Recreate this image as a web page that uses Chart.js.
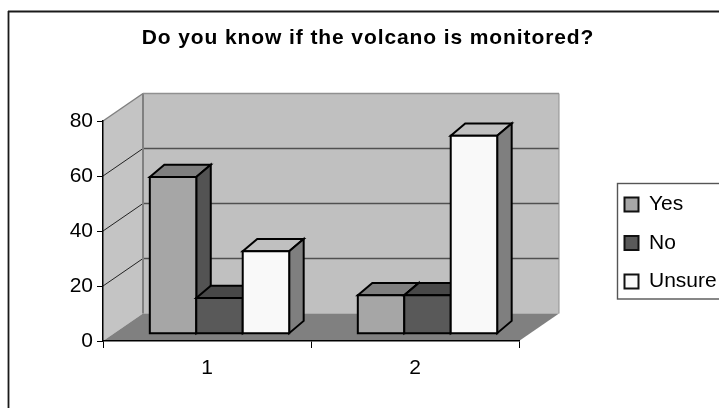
<!DOCTYPE html>
<html>
<head>
<meta charset="utf-8">
<title>Do you know if the volcano is monitored?</title>
<script src="https://cdn.jsdelivr.net/npm/chart.js@4/dist/chart.umd.js"></script>
<style>
  html, body { margin: 0; padding: 0; background: #fff; overflow: hidden; }
  canvas { display: block; }
</style>
</head>
<body>
<canvas id="volcanoChart" width="719" height="408"></canvas>
<script>
const chartTitle = 'Do you know if the volcano is monitored?';
const categories = ['1', '2'];
const seriesNames = ['Yes', 'No', 'Unsure'];
const yesValues = [57, 14];
const noValues = [13, 14];
const unsureValues = [30, 72];

// front, top and side face of each series
const frontColors = ['#a6a6a6', '#595959', '#f9f9f9'];
const topColors = ['#7f7f7f', '#484848', '#c0c0c0'];
const sideColors = ['#535353', '#484848', '#7f7f7f'];

// how far the walls and bars are pushed back to fake the 3d look
const wallDepth = { x: 40, y: 27.5 };
const barShift = { x: 12.5, y: 7.3 };
const barDepth = { x: 14.5, y: 12.3 };

function poly(ctx, pts, fill, stroke, lineWidth) {
  ctx.beginPath();
  pts.forEach((p, i) => i ? ctx.lineTo(p[0], p[1]) : ctx.moveTo(p[0], p[1]));
  ctx.closePath();
  if (fill) {
    ctx.fillStyle = fill;
    ctx.fill();
  }
  if (stroke) {
    ctx.strokeStyle = stroke;
    ctx.lineWidth = lineWidth;
    ctx.lineJoin = 'miter';
    ctx.stroke();
  }
}

function line(ctx, x1, y1, x2, y2, color, width) {
  ctx.beginPath();
  ctx.moveTo(x1, y1);
  ctx.lineTo(x2, y2);
  ctx.strokeStyle = color;
  ctx.lineWidth = width;
  ctx.stroke();
}

// the original title is set wider than the installed fonts
function spaceOut(box, spacing) {
  const draw = box.draw;
  box.draw = function (...args) {
    this.ctx.letterSpacing = spacing;
    draw.apply(this, args);
    this.ctx.letterSpacing = '0px';
  };
}

const box3d = {
  id: 'box3d',
  beforeInit(chart) {
    spaceOut(chart.titleBlock, '0.9px');
  },
  afterLayout(chart) {
    // title is centred on the uncropped frame, legend sits in its own box
    chart.titleBlock.left = 8;
    chart.titleBlock.right = 728;
    const legend = chart.legend;
    legend.left = 607;
    legend.right = 719;
    legend.top = 176.5;
    legend.bottom = 360;
  },
  beforeDraw(chart) {
    const { ctx, chartArea: a, scales: { y } } = chart;
    const dx = wallDepth.x, dy = wallDepth.y;
    ctx.save();
    ctx.fillStyle = '#fff';
    ctx.fillRect(0, 0, chart.width, chart.height);

    // outer frame, cropped on the right and at the bottom
    line(ctx, 8.5, 11, 8.5, chart.height, '#1a1a1a', 1.8);
    line(ctx, 8, 11.5, chart.width, 11.5, '#1a1a1a', 1.8);

    // back wall, left wall, floor
    poly(ctx, [[a.left + dx, a.top - dy], [a.right + dx, a.top - dy], [a.right + dx, a.bottom - dy], [a.left + dx, a.bottom - dy]], '#c0c0c0');
    poly(ctx, [[a.left, a.top], [a.left + dx, a.top - dy], [a.left + dx, a.bottom - dy], [a.left, a.bottom]], '#c4c4c4');
    poly(ctx, [[a.left, a.bottom], [a.left + dx, a.bottom - dy], [a.right + dx, a.bottom - dy], [a.right, a.bottom]], '#808080');

    y.ticks.forEach(t => {
      if (t.value === y.min || t.value === y.max) return;
      const py = y.getPixelForValue(t.value);
      line(ctx, a.left, py, a.left + dx, py - dy, '#222', 1);
      line(ctx, a.left + dx, py - dy, a.right + dx, py - dy, '#505050', 1.4);
    });

    line(ctx, a.left, a.top, a.left + dx, a.top - dy, '#808080', 1.5);
    line(ctx, a.left + dx, a.top - dy, a.left + dx, a.bottom - dy, '#808080', 2);
    line(ctx, a.left + dx, a.top - dy, a.right + dx, a.top - dy, '#909090', 1.5);
    line(ctx, a.right + dx, a.top - dy, a.right + dx, a.bottom - dy, '#909090', 1);

    // legend frame
    ctx.strokeStyle = '#555';
    ctx.lineWidth = 1.4;
    ctx.strokeRect(617.5, 183.5, 200, 115.5);
    ctx.restore();
  },
  // the flat bars from the library are replaced by boxes in afterDatasetsDraw
  beforeDatasetDraw() {
    return false;
  },
  afterDatasetsDraw(chart) {
    const ctx = chart.ctx;
    ctx.save();
    chart.data.datasets.forEach((ds, i) => {
      chart.getDatasetMeta(i).data.forEach(bar => {
        const l = bar.x - bar.width / 2 + barShift.x;
        const r = bar.x + bar.width / 2 + barShift.x;
        const t = bar.y - barShift.y;
        const b = bar.base - barShift.y;
        const dx = barDepth.x, dy = barDepth.y;
        poly(ctx, [[l, t], [l + dx, t - dy], [r + dx, t - dy], [r, t]], topColors[i], '#000', 2);
        poly(ctx, [[r, t], [r + dx, t - dy], [r + dx, b - dy], [r, b]], sideColors[i], '#000', 2);
        poly(ctx, [[l, t], [r, t], [r, b], [l, b]], frontColors[i], '#000', 2);
      });
    });
    ctx.restore();
  }
};

const seriesValues = [yesValues, noValues, unsureValues];

new Chart(document.getElementById('volcanoChart'), {
  type: 'bar',
  data: {
    labels: categories,
    datasets: seriesNames.map((name, i) => ({
      label: name,
      data: seriesValues[i],
      backgroundColor: frontColors[i],
      borderColor: '#111',
      borderWidth: 2
    }))
  },
  options: {
    responsive: false,
    animation: false,
    layout: { padding: { right: 200 } },
    categoryPercentage: 0.67,
    barPercentage: 1,
    plugins: {
      tooltip: { enabled: false },
      title: {
        display: true,
        text: chartTitle,
        color: '#000',
        font: { family: '"Liberation Sans", Arial, sans-serif', size: 21, weight: 'bold', lineHeight: 1 },
        padding: { top: 28, bottom: 72 }
      },
      legend: {
        position: 'chartArea',
        align: 'start',
        labels: {
          color: '#000',
          boxWidth: 14,
          boxHeight: 14,
          padding: 17.5,
          font: { family: '"Liberation Sans", Arial, sans-serif', size: 21 }
        }
      }
    },
    scales: {
      x: {
        afterFit(scale) { scale.height = 67; },
        border: { color: '#000', width: 1.5 },
        grid: { drawOnChartArea: false, tickLength: 7, tickColor: '#000', tickWidth: 1 },
        ticks: { color: '#000', padding: 8, maxRotation: 0, font: { family: '"Liberation Sans", Arial, sans-serif', size: 21 } }
      },
      y: {
        min: 0,
        max: 80,
        afterFit(scale) { scale.width = 103; },
        border: { color: '#000', width: 1.5 },
        grid: { drawOnChartArea: false, tickLength: 6, tickColor: '#000', tickWidth: 1 },
        ticks: { stepSize: 20, color: '#000', padding: 4, font: { family: '"Liberation Sans", Arial, sans-serif', size: 21 } }
      }
    }
  },
  plugins: [box3d]
});
</script>
</body>
</html>
